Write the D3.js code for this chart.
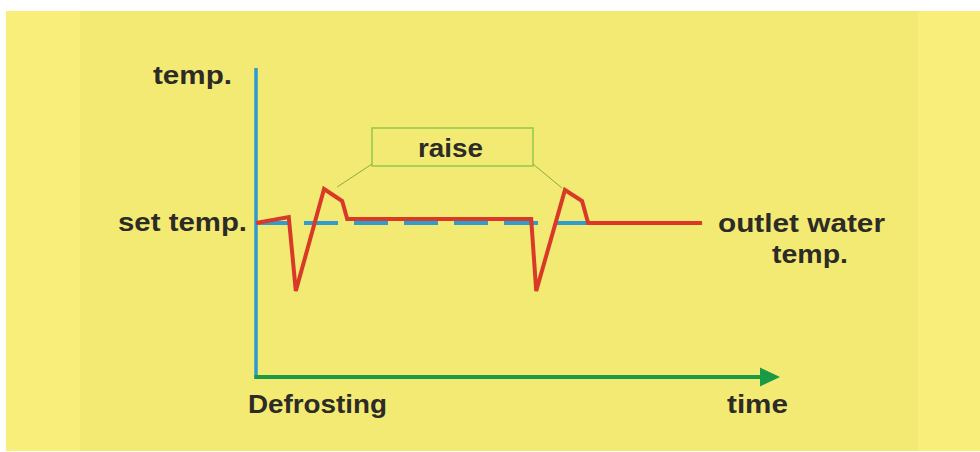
<!DOCTYPE html>
<html>
<head>
<meta charset="utf-8">
<script src="https://cdn.jsdelivr.net/npm/d3@7"></script>
<style>
  html, body { margin: 0; padding: 0; background: #ffffff; }
  svg { display: block; }
  text { font-family: "Liberation Sans", Arial, Helvetica, sans-serif; font-weight: bold; fill: #2d2b26; }
</style>
</head>
<body>
<div id="chart"></div>
<script>
// Outlet water temperature during defrosting (time units, degrees relative to set temp)
const outletTime = [0, 6.5, 7.9, 13.5, 17.1, 18.1, 54.6, 55.6, 61.3, 64.7, 65.9, 88.5];
const outletTemp = [0, 1.2, -13.6, 6.8, 4.4, 0.8, 0.8, -13.6, 6.6, 4.4, 0, 0];

// Set temperature reference line
const setTime = [0, 85.7];
const setTemp = [0, 0];

// Points the "raise" callout lines point at
const raiseTime = [16.1, 60.7];
const raiseTemp = [7.2, 7.0];

// Axis extents
const timeDomain = [0, 100];
const tempDomain = [-31, 31];

const width = 980, height = 452;

const svg = d3.select("#chart")
  .append("svg")
    .attr("width", width)
    .attr("height", height);

// Background panels
svg.append("rect")
    .attr("x", 6).attr("y", 11)
    .attr("width", width - 6).attr("height", height - 12)
    .attr("fill", "#faee7a");
svg.append("rect")
    .attr("x", 80).attr("y", 11)
    .attr("width", 838).attr("height", height - 12)
    .attr("fill", "#f3ea74");

// Scales
const xScale = d3.scaleLinear().domain(timeDomain).range([256, 760]);
const yScale = d3.scaleLinear().domain(tempDomain).range([378, 68]);

// Y axis (blue vertical line)
svg.append("line")
    .attr("x1", xScale(0)).attr("x2", xScale(0))
    .attr("y1", yScale(tempDomain[1])).attr("y2", yScale(tempDomain[0]) + 1)
    .attr("stroke", "#2b9bcf")
    .attr("stroke-width", 3.5);

// X axis (green line with arrow head)
const axisY = yScale(tempDomain[0]) - 1;
svg.append("line")
    .attr("x1", xScale(0) - 1.5).attr("x2", xScale(timeDomain[1]))
    .attr("y1", axisY).attr("y2", axisY)
    .attr("stroke", "#1b9a45")
    .attr("stroke-width", 4);
svg.append("path")
    .attr("d", d3.line()([
        [xScale(timeDomain[1]), axisY - 9.5],
        [xScale(timeDomain[1]) + 20, axisY],
        [xScale(timeDomain[1]), axisY + 9.5]
    ]) + "Z")
    .attr("fill", "#1b9a45");

// Set temperature dashed line
const setData = setTime.map((t, i) => [t, setTemp[i]]);
svg.append("path")
    .datum(setData)
    .attr("fill", "none")
    .attr("stroke", "#2e9ccc")
    .attr("stroke-width", 4)
    .attr("stroke-dasharray", "34,16")
    .attr("stroke-dashoffset", 2)
    .attr("d", d3.line().x(d => xScale(d[0])).y(d => yScale(d[1])));

// Outlet water temperature line
const outletData = outletTime.map((t, i) => [t, outletTemp[i]]);
svg.append("path")
    .datum(outletData)
    .attr("fill", "none")
    .attr("stroke", "#d93a28")
    .attr("stroke-width", 4)
    .attr("stroke-linejoin", "miter")
    .attr("d", d3.line().x(d => xScale(d[0])).y(d => yScale(d[1])));

// "raise" callout box and pointer lines
const box = {x: 372, y: 128, w: 161, h: 38};
svg.append("rect")
    .attr("x", box.x).attr("y", box.y)
    .attr("width", box.w).attr("height", box.h)
    .attr("fill", "none")
    .attr("stroke", "#93c84e")
    .attr("stroke-width", 1.5);

svg.selectAll(".pointer")
  .data(raiseTime.map((t, i) => [t, raiseTemp[i]]))
  .enter()
  .append("line")
    .attr("class", "pointer")
    .attr("x1", (d, i) => i === 0 ? box.x : box.x + box.w)
    .attr("y1", box.y + box.h - 2)
    .attr("x2", d => xScale(d[0]))
    .attr("y2", d => yScale(d[1]))
    .attr("stroke", "#8fa83c")
    .attr("stroke-width", 1);

// Labels: [text, x, baseline, width]
const labels = [
  ["raise", 418, 157, 65],
  ["temp.", 153, 84, 79],
  ["set temp.", 118, 231, 129],
  ["outlet water", 718, 232, 167],
  ["temp.", 772, 263, 76],
  ["Defrosting", 248, 413, 139],
  ["time", 727, 413, 61]
];

svg.selectAll(".label")
  .data(labels)
  .enter()
  .append("text")
    .attr("class", "label")
    .attr("x", d => d[1])
    .attr("y", d => d[2])
    .attr("font-size", 25)
    .attr("textLength", d => d[3])
    .attr("lengthAdjust", "spacingAndGlyphs")
    .text(d => d[0]);
</script>
</body>
</html>
